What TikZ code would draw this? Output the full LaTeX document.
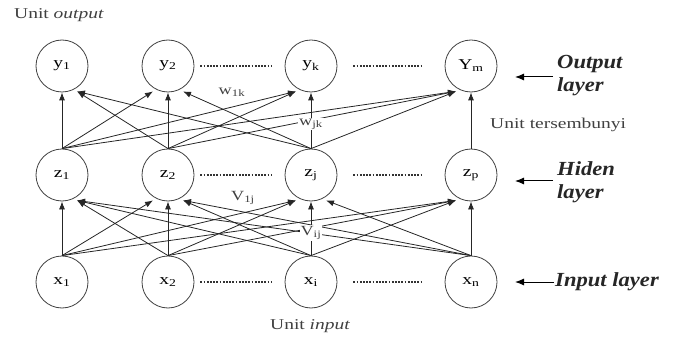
\documentclass[tikz,border=0pt]{standalone}
\usepackage{fontspec}
\usepackage{graphicx}
\setmainfont{Liberation Serif}
\usetikzlibrary{arrows.meta,calc}
\newcommand{\wdx}[1]{\scalebox{1.3}[1]{#1}}
\newcommand{\wlx}[1]{\scalebox{1.13}[1]{#1}}
\tikzset{
  unit/.style={circle,draw=black!75,line width=0.8pt,minimum size=52pt,inner sep=0pt,
    font=\fontsize{15}{17}\selectfont},
  conn/.style={draw=black!85,line width=0.8pt,-{Latex[length=8pt,width=6pt]}},
  dots/.style={draw=black!80,line width=1.3pt,dash pattern=on 1.8pt off 1.4pt},
  wlabel/.style={fill=white,inner sep=1pt,font=\fontsize{14}{16}\selectfont,text=black!75},
  small/.style={font=\fontsize{15}{17}\selectfont,text=black!75,inner sep=0pt},
  layer/.style={font=\fontsize{20}{23}\selectfont\bfseries\itshape,text=black!85,align=left,inner sep=0pt,anchor=west},
  pointer/.style={draw=black,line width=1pt,-{Latex[length=9pt,width=7pt]}}
}
\begin{document}
\begin{tikzpicture}[x=1pt,y=-1pt]
\useasboundingbox (0,0) rectangle (674,339);
% nodes
\node[unit] (y1) at (62,66) {\wdx{y\textsubscript{1}}};
\node[unit] (y2) at (168,66) {\wdx{y\textsubscript{2}}};
\node[unit] (yk) at (311,66) {\wdx{y\textsubscript{k}}};
\node[unit] (ym) at (471,66) {\wdx{Y\textsubscript{m}}};
\node[unit] (z1) at (62,175) {\wdx{z\textsubscript{1}}};
\node[unit] (z2) at (168,175) {\wdx{z\textsubscript{2}}};
\node[unit] (zj) at (311,175) {\wdx{z\textsubscript{j}}};
\node[unit] (zp) at (471,175) {\wdx{z\textsubscript{p}}};
\node[unit] (x1) at (62,282) {\wdx{x\textsubscript{1}}};
\node[unit] (x2) at (168,282) {\wdx{x\textsubscript{2}}};
\node[unit] (xi) at (311,282) {\wdx{x\textsubscript{i}}};
\node[unit] (xn) at (471,282) {\wdx{x\textsubscript{n}}};
% dotted separators
\draw[dots] ([xshift=6pt]y2.east) -- ([xshift=-13pt]yk.west);
\draw[dots] ([xshift=16pt]yk.east) -- ([xshift=-22pt]ym.west);
\draw[dots] ([xshift=6pt]z2.east) -- ([xshift=-13pt]zj.west);
\draw[dots] ([xshift=16pt]zj.east) -- ([xshift=-22pt]zp.west);
\draw[dots] ([xshift=6pt]x2.east) -- ([xshift=-13pt]xi.west);
\draw[dots] ([xshift=16pt]xi.east) -- ([xshift=-22pt]xn.west);
% input -> hidden (fully connected)
\foreach \s/\si in {x1/1,x2/2,xi/3,xn/4}{
  \foreach \t/\ti in {z1/1,z2/2,zj/3,zp/4}{
    \ifnum\si<\ti
      \draw[conn] (\s.north) -- ($(\t.south)+(-15,-1)$);
    \else\ifnum\si>\ti
      \draw[conn] (\s.north) -- ($(\t.south)+(15,-1)$);
    \else
      \draw[conn] (\s.north) -- (\t.south);
    \fi\fi
  }
}
% hidden -> output
\foreach \s/\si in {z1/1,z2/2,zj/3}{
  \foreach \t/\ti in {y1/1,y2/2,yk/3,ym/4}{
    \ifnum\si<\ti
      \draw[conn] (\s.north) -- ($(\t.south)+(-15,-1)$);
    \else\ifnum\si>\ti
      \draw[conn] (\s.north) -- ($(\t.south)+(15,-1)$);
    \else
      \draw[conn] (\s.north) -- (\t.south);
    \fi\fi
  }
}
\draw[conn] (zp.north) -- (ym.south);
% weight labels
\node[wlabel] (w1k) at (232,92) {\wdx{w\textsubscript{1k}}};
\node[wlabel] (wjk) at (311,124) {\wdx{w\textsubscript{jk}}};
\node[wlabel] (v1j) at (243,198) {\wdx{V\textsubscript{1j}}};
\node[wlabel] (vij) at (311,233) {\wdx{V\textsubscript{ij}}};
% unit captions
\node[small,anchor=west] (uo) at (14,15) {\wdx{Unit \textit{output}}};
\node[small,anchor=west] (uh) at (490,125) {\wdx{Unit tersembunyi}};
\node[small,anchor=west] (ui) at (270,326) {\wdx{Unit \textit{input}}};
% layer labels
\node[layer] (ol) at (557,76) {\wlx{Output}\\\wlx{layer}};
\node[layer] (hl) at (557,182) {\wlx{Hiden}\\\wlx{layer}};
\node[layer] (il) at (555,282) {\wlx{Input layer}};
\coordinate (oa) at (515,77);
\coordinate (ha) at (515,181);
\coordinate (ia) at (515,282);
\draw[pointer] ([xshift=-4pt]ol.west |- oa) -- (oa);
\draw[pointer] ([xshift=-4pt]hl.west |- ha) -- (ha);
\draw[pointer] ([xshift=-1pt]il.west |- ia) -- (ia);
\end{tikzpicture}
\end{document}
